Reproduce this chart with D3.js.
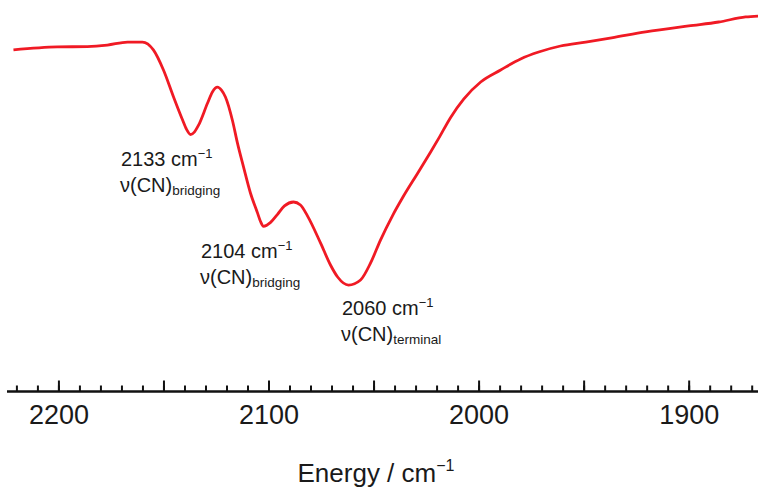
<!DOCTYPE html>
<html>
<head>
<meta charset="utf-8">
<script src="https://cdn.jsdelivr.net/npm/d3@7"></script>
<style>
  html, body { margin: 0; padding: 0; background: #fff; }
  svg { display: block; font-family: "Liberation Sans", Arial, Helvetica, sans-serif; }
</style>
</head>
<body>
<svg id="chart" width="758" height="487"></svg>
<script>
// Wavenumber (cm^-1) of each traced point of the spectrum
const wavenumber = [2221.4, 2200.5, 2186.2, 2176.7, 2167.1, 2160.0, 2154.8, 2150.0, 2145.2, 2141.0,
  2139.0, 2137.1, 2135.2, 2133.3, 2129.0, 2126.7, 2124.3, 2122.4, 2120.5, 2117.1,
  2114.8, 2111.9, 2108.6, 2105.2, 2103.8, 2102.4, 2099.0, 2095.7, 2092.4, 2088.1,
  2084.8, 2081.4, 2075.2, 2070.5, 2067.1, 2061.9, 2056.2, 2051.4, 2046.7, 2041.0,
  2036.2, 2029.0, 2022.9, 2019.0, 2013.3, 2007.1, 1999.0, 1989.5, 1980.0, 1971.4,
  1961.0, 1949.0, 1936.7, 1920.5, 1900.0, 1885.7, 1872.9, 1866.7];
// Transmittance (arbitrary units, 0-100)
const transmittance = [86.7, 87.7, 87.8, 88.3, 89.3, 89.3, 86.7, 80.0, 71.0, 63.5,
  60.2, 58.5, 59.4, 61.6, 69.0, 72.7, 74.3, 73.3, 71.0, 63.0,
  55.7, 47.7, 39.0, 32.3, 29.5, 27.9, 29.2, 31.9, 34.7, 36.0,
  35.0, 31.3, 22.3, 15.0, 11.0, 8.3, 10.0, 15.7, 23.3, 31.4,
  37.4, 45.6, 52.6, 57.2, 64.2, 70.3, 76.0, 80.0, 83.7, 86.0,
  88.0, 89.3, 90.7, 92.7, 94.7, 96.0, 97.7, 98.0];

const labelTicks = [2200, 2100, 2000, 1900];
const majorTicks = [2200, 2150, 2100, 2050, 2000, 1950, 1900];
const minorTicks = d3.range(1870, 2221, 10);

const peakLabels = [
  { wn: 2133, value: "2133", mode: "bridging" },
  { wn: 2104, value: "2104", mode: "bridging" },
  { wn: 2060, value: "2060", mode: "terminal" }
];
const axisTitle = "Energy / cm";

const svg = d3.select("#chart");
const x = d3.scaleLinear().domain([2224, 1867]).range([8, 758]);
const y = d3.scaleLinear().domain([0, 100]).range([310, 10]);
const axisY = 391.5;

const data = wavenumber.map((w, i) => ({ w, t: transmittance[i] }));

// Minor ticks
svg.append("g")
  .attr("transform", `translate(0,${axisY})`)
  .call(d3.axisBottom(x).tickValues(minorTicks).tickSize(-6).tickSizeOuter(0).tickFormat(""))
  .call(g => g.select(".domain").remove())
  .call(g => g.selectAll(".tick line").attr("stroke", "#111").attr("stroke-width", 2));

// Major ticks
svg.append("g")
  .attr("transform", `translate(0,${axisY})`)
  .call(d3.axisBottom(x).tickValues(majorTicks).tickSize(-11).tickSizeOuter(0).tickFormat(""))
  .call(g => g.select(".domain").remove())
  .call(g => g.selectAll(".tick line").attr("stroke", "#111").attr("stroke-width", 2));

// Labelled axis with domain line
svg.append("g")
  .attr("transform", `translate(0,${axisY})`)
  .call(d3.axisBottom(x).tickValues(labelTicks).tickSize(0).tickSizeOuter(0).tickPadding(13).tickFormat(d3.format("d")))
  .call(g => g.select(".domain").attr("stroke", "#111").attr("stroke-width", 2.5).attr("d", `M7,0H758`))
  .call(g => g.selectAll(".tick text")
    .attr("font-size", 27).attr("fill", "#1a1a1a")
    .attr("font-family", '"Liberation Sans", Arial, sans-serif'));

// Axis title
const title = svg.append("text")
  .attr("x", 376).attr("y", 482)
  .attr("text-anchor", "middle")
  .attr("font-size", 26).attr("fill", "#1a1a1a");
title.append("tspan").text(axisTitle);
title.append("tspan").attr("font-size", 16).attr("dy", -11).text("\u22121");

// Spectrum
svg.append("path")
  .datum(data)
  .attr("fill", "none")
  .attr("stroke", "#f01a24")
  .attr("stroke-width", 2.8)
  .attr("stroke-linejoin", "round")
  .attr("d", d3.line().x(d => x(d.w)).y(d => y(d.t)).curve(d3.curveMonotoneX));

// Peak labels
const labelPos = [
  { x: 121, y: 166 },
  { x: 201, y: 258 },
  { x: 342, y: 315 }
];
peakLabels.forEach((p, i) => {
  const pos = labelPos[i];
  const t1 = svg.append("text").attr("x", pos.x).attr("y", pos.y)
    .attr("font-size", 20).attr("fill", "#1a1a1a");
  t1.append("tspan").text(p.value + " cm");
  t1.append("tspan").attr("font-size", 13).attr("dy", -8).text("\u22121");
  const t2 = svg.append("text").attr("x", pos.x - 1).attr("y", pos.y + 26)
    .attr("font-size", 20).attr("fill", "#1a1a1a");
  t2.append("tspan").text("\u03bd(CN)");
  t2.append("tspan").attr("font-size", 13.5).attr("dy", 3).text(p.mode);
});
</script>
</body>
</html>
